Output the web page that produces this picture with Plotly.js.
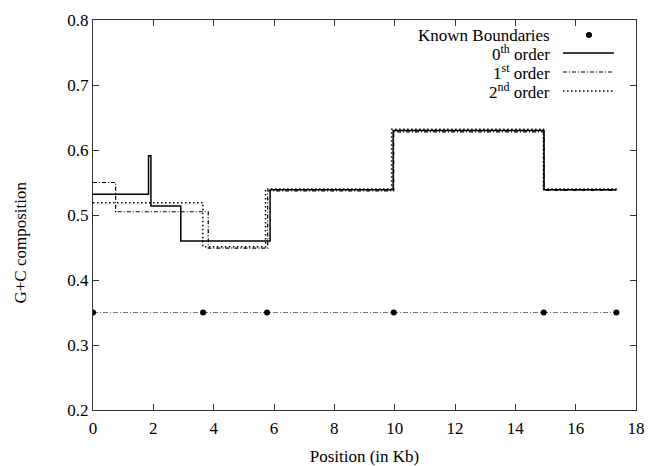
<!DOCTYPE html>
<html>
<head>
<meta charset="utf-8">
<script src="https://cdn.plot.ly/plotly-3.0.1.min.js"></script>
<style>
  html, body { margin: 0; padding: 0; background: #fff; }
  #chart { width: 650px; height: 466px; }
</style>
</head>
<body>
<div id="chart"></div>
<script>
// Known segment boundaries (Kb) and the level at which they are marked
const boundaryPos = [0, 3.65, 5.77, 9.97, 14.94, 17.35];
const boundaryLevel = [0.35, 0.35, 0.35, 0.35, 0.35, 0.35];

// Segment edges (Kb) and G+C level of each segment, per model order
const order0Edges = [0, 1.84, 1.92, 2.91, 5.87, 9.95, 14.95, 17.36];
const order0Gc = [0.532, 0.591, 0.514, 0.460, 0.539, 0.630, 0.539];

const order1Edges = [0, 0.75, 3.82, 5.79, 9.97, 14.95, 17.36];
const order1Gc = [0.550, 0.505, 0.449, 0.537, 0.628, 0.538];

const order2Edges = [0, 3.64, 5.72, 9.90, 14.93, 17.36];
const order2Gc = [0.519, 0.451, 0.540, 0.632, 0.540];

const xTicks = [0, 2, 4, 6, 8, 10, 12, 14, 16, 18];
const yTicks = [0.2, 0.3, 0.4, 0.5, 0.6, 0.7, 0.8];

const FONT = "'Liberation Serif', 'DejaVu Serif', serif";

// step function: every segment level held until the next edge
function stepY(levels) {
  return levels.concat([levels[levels.length - 1]]);
}

const traces = [
  {
    x: boundaryPos, y: boundaryLevel, mode: 'lines+markers', type: 'scatter',
    name: 'Known Boundaries',
    line: { color: '#777', width: 1, dash: '5px,2px,1px,2px' },
    marker: { color: '#000', size: 6 }
  },
  {
    x: order0Edges, y: stepY(order0Gc), mode: 'lines', type: 'scatter',
    name: '0th order', line: { shape: 'hv', color: '#000', width: 1.5 }
  },
  {
    x: order1Edges, y: stepY(order1Gc), mode: 'lines', type: 'scatter',
    name: '1st order', line: { shape: 'hv', color: '#000', width: 1.2, dash: '4px,2px,1px,2px' }
  },
  {
    x: order2Edges, y: stepY(order2Gc), mode: 'lines', type: 'scatter',
    name: '2nd order', line: { shape: 'hv', color: '#000', width: 1.5, dash: '1.5px,2.5px' }
  }
];

// hand-built key: right-aligned labels followed by line samples
const keyTextX = 0.8453;
const keySampleX0 = 0.8656, keySampleX1 = 0.9595, keyDotX = 0.9134;
const keyRows = [0.9615, 0.9154, 0.8667, 0.8179];
const keyLabels = ['Known Boundaries', '0<sup>th</sup> order', '1<sup>st</sup> order', '2<sup>nd</sup> order'];

const annotations = keyLabels.map((t, i) => ({
  xref: 'paper', yref: 'paper', x: keyTextX, y: keyRows[i],
  xanchor: 'right', yanchor: 'middle', text: t, showarrow: false,
  font: { family: FONT, size: 17, color: '#000' }
}));
annotations.push({
  xref: 'paper', yref: 'paper', x: -0.134, y: 0.43,
  xanchor: 'center', yanchor: 'middle', text: 'G+C composition', textangle: -90,
  showarrow: false, font: { family: FONT, size: 17, color: '#000' }
});

const shapes = [
  { type: 'circle', xref: 'paper', yref: 'paper', xsizemode: 'pixel', ysizemode: 'pixel',
    xanchor: keyDotX, yanchor: keyRows[0], x0: -3, x1: 3, y0: -3, y1: 3,
    fillcolor: '#000', line: { width: 0 } },
  { type: 'line', xref: 'paper', yref: 'paper', x0: keySampleX0, x1: keySampleX1,
    y0: keyRows[1], y1: keyRows[1], line: { color: '#000', width: 1.5 } },
  { type: 'line', xref: 'paper', yref: 'paper', x0: keySampleX0, x1: keySampleX1,
    y0: keyRows[2], y1: keyRows[2], line: { color: '#000', width: 1.2, dash: '4px,2px,1px,2px' } },
  { type: 'line', xref: 'paper', yref: 'paper', x0: keySampleX0, x1: keySampleX1,
    y0: keyRows[3], y1: keyRows[3], line: { color: '#000', width: 1.5, dash: '1.5px,2.5px' } }
];

const axisCommon = {
  showgrid: false, zeroline: false, showline: true, linecolor: '#333', linewidth: 1,
  mirror: 'ticks', ticks: 'inside', ticklen: 6, tickcolor: '#333', tickwidth: 1,
  tickfont: { family: FONT, size: 17, color: '#000' }
};

const layout = {
  width: 650, height: 466,
  margin: { l: 93, r: 14, t: 20, b: 56 },
  paper_bgcolor: '#fff', plot_bgcolor: '#fff',
  font: { family: FONT, size: 17, color: '#000' },
  showlegend: false,
  xaxis: Object.assign({}, axisCommon, {
    range: [0, 18], tickvals: xTicks, ticktext: xTicks.map(String),
    ticklabelstandoff: 3,
    title: { text: 'Position (in Kb)', font: { family: FONT, size: 17, color: '#000' }, standoff: 12 }
  }),
  yaxis: Object.assign({}, axisCommon, {
    range: [0.2, 0.8], tickvals: yTicks, ticktext: yTicks.map(v => v.toFixed(1))
  }),
  annotations: annotations,
  shapes: shapes
};

Plotly.newPlot('chart', traces, layout, { displayModeBar: false, staticPlot: true });
</script>
</body>
</html>
